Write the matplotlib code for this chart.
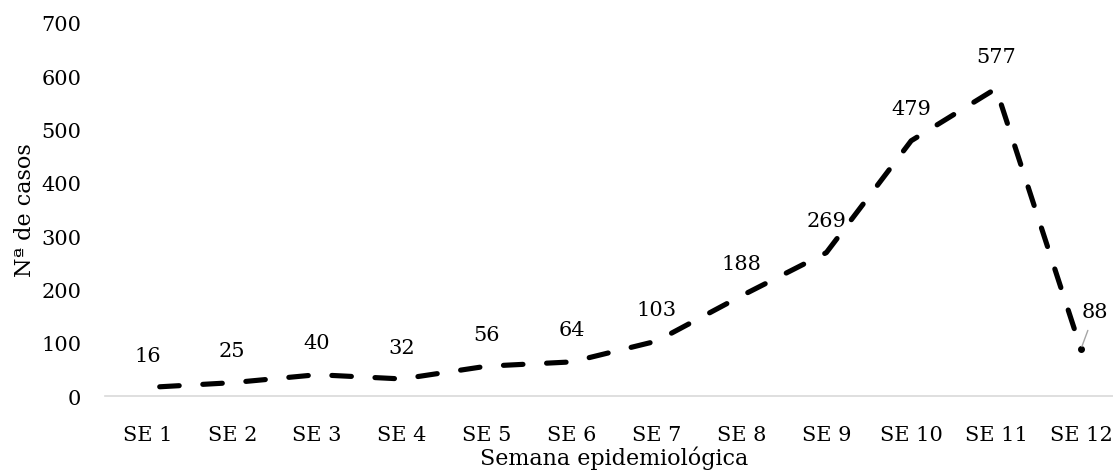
import matplotlib.pyplot as plt

semanas = ['SE 1', 'SE 2', 'SE 3', 'SE 4', 'SE 5', 'SE 6',
           'SE 7', 'SE 8', 'SE 9', 'SE 10', 'SE 11', 'SE 12']
casos = [16, 25, 40, 32, 56, 64, 103, 188, 269, 479, 577, 88]
yticks = [0, 100, 200, 300, 400, 500, 600, 700]

plt.rcParams['font.family'] = ['DejaVu Serif']

fig = plt.figure(figsize=(11.13, 4.77), dpi=100)
ax = fig.add_axes([0.0943, 0.1677, 0.915, 0.782])

x = list(range(len(semanas)))
line, = ax.plot(x, casos, color='black', linewidth=3.7, linestyle=(6, (3.8, 4.6)),
                dash_capstyle='round', solid_capstyle='round',
                marker='o', markersize=4, markevery=[len(casos) - 1])

# data labels above the points, last one to the upper right with a leader line
for i, v in enumerate(casos):
    if i == len(casos) - 1:
        ax.annotate(str(v), xy=(i, v), xytext=(10, 27), textcoords='offset points',
                    ha='center', va='center', fontsize=15,
                    arrowprops=dict(arrowstyle='-', color='#a6a6a6', lw=1,
                                    shrinkA=5, shrinkB=2))
    else:
        ax.annotate(str(v), xy=(i, v), xytext=(0, 23), textcoords='offset points',
                    ha='center', va='center', fontsize=15)

ax.set_xlim(-0.5, len(semanas) - 0.5)
ax.set_ylim(0, 700)
ax.set_xticks(x)
ax.set_xticklabels(semanas)
ax.set_yticks(yticks)
ax.tick_params(axis='both', length=0, labelsize=15)
ax.tick_params(axis='x', pad=21)
ax.tick_params(axis='y', pad=17)

for s in ['top', 'right', 'left']:
    ax.spines[s].set_visible(False)
ax.spines['bottom'].set_color('#d9d9d9')
ax.spines['bottom'].set_linewidth(1.2)

ax.set_xlabel('Semana epidemiológica', fontsize=16, labelpad=1)
ax.set_ylabel('Nª de casos', fontsize=16, labelpad=4)

fig.savefig('out.png', dpi=100)
